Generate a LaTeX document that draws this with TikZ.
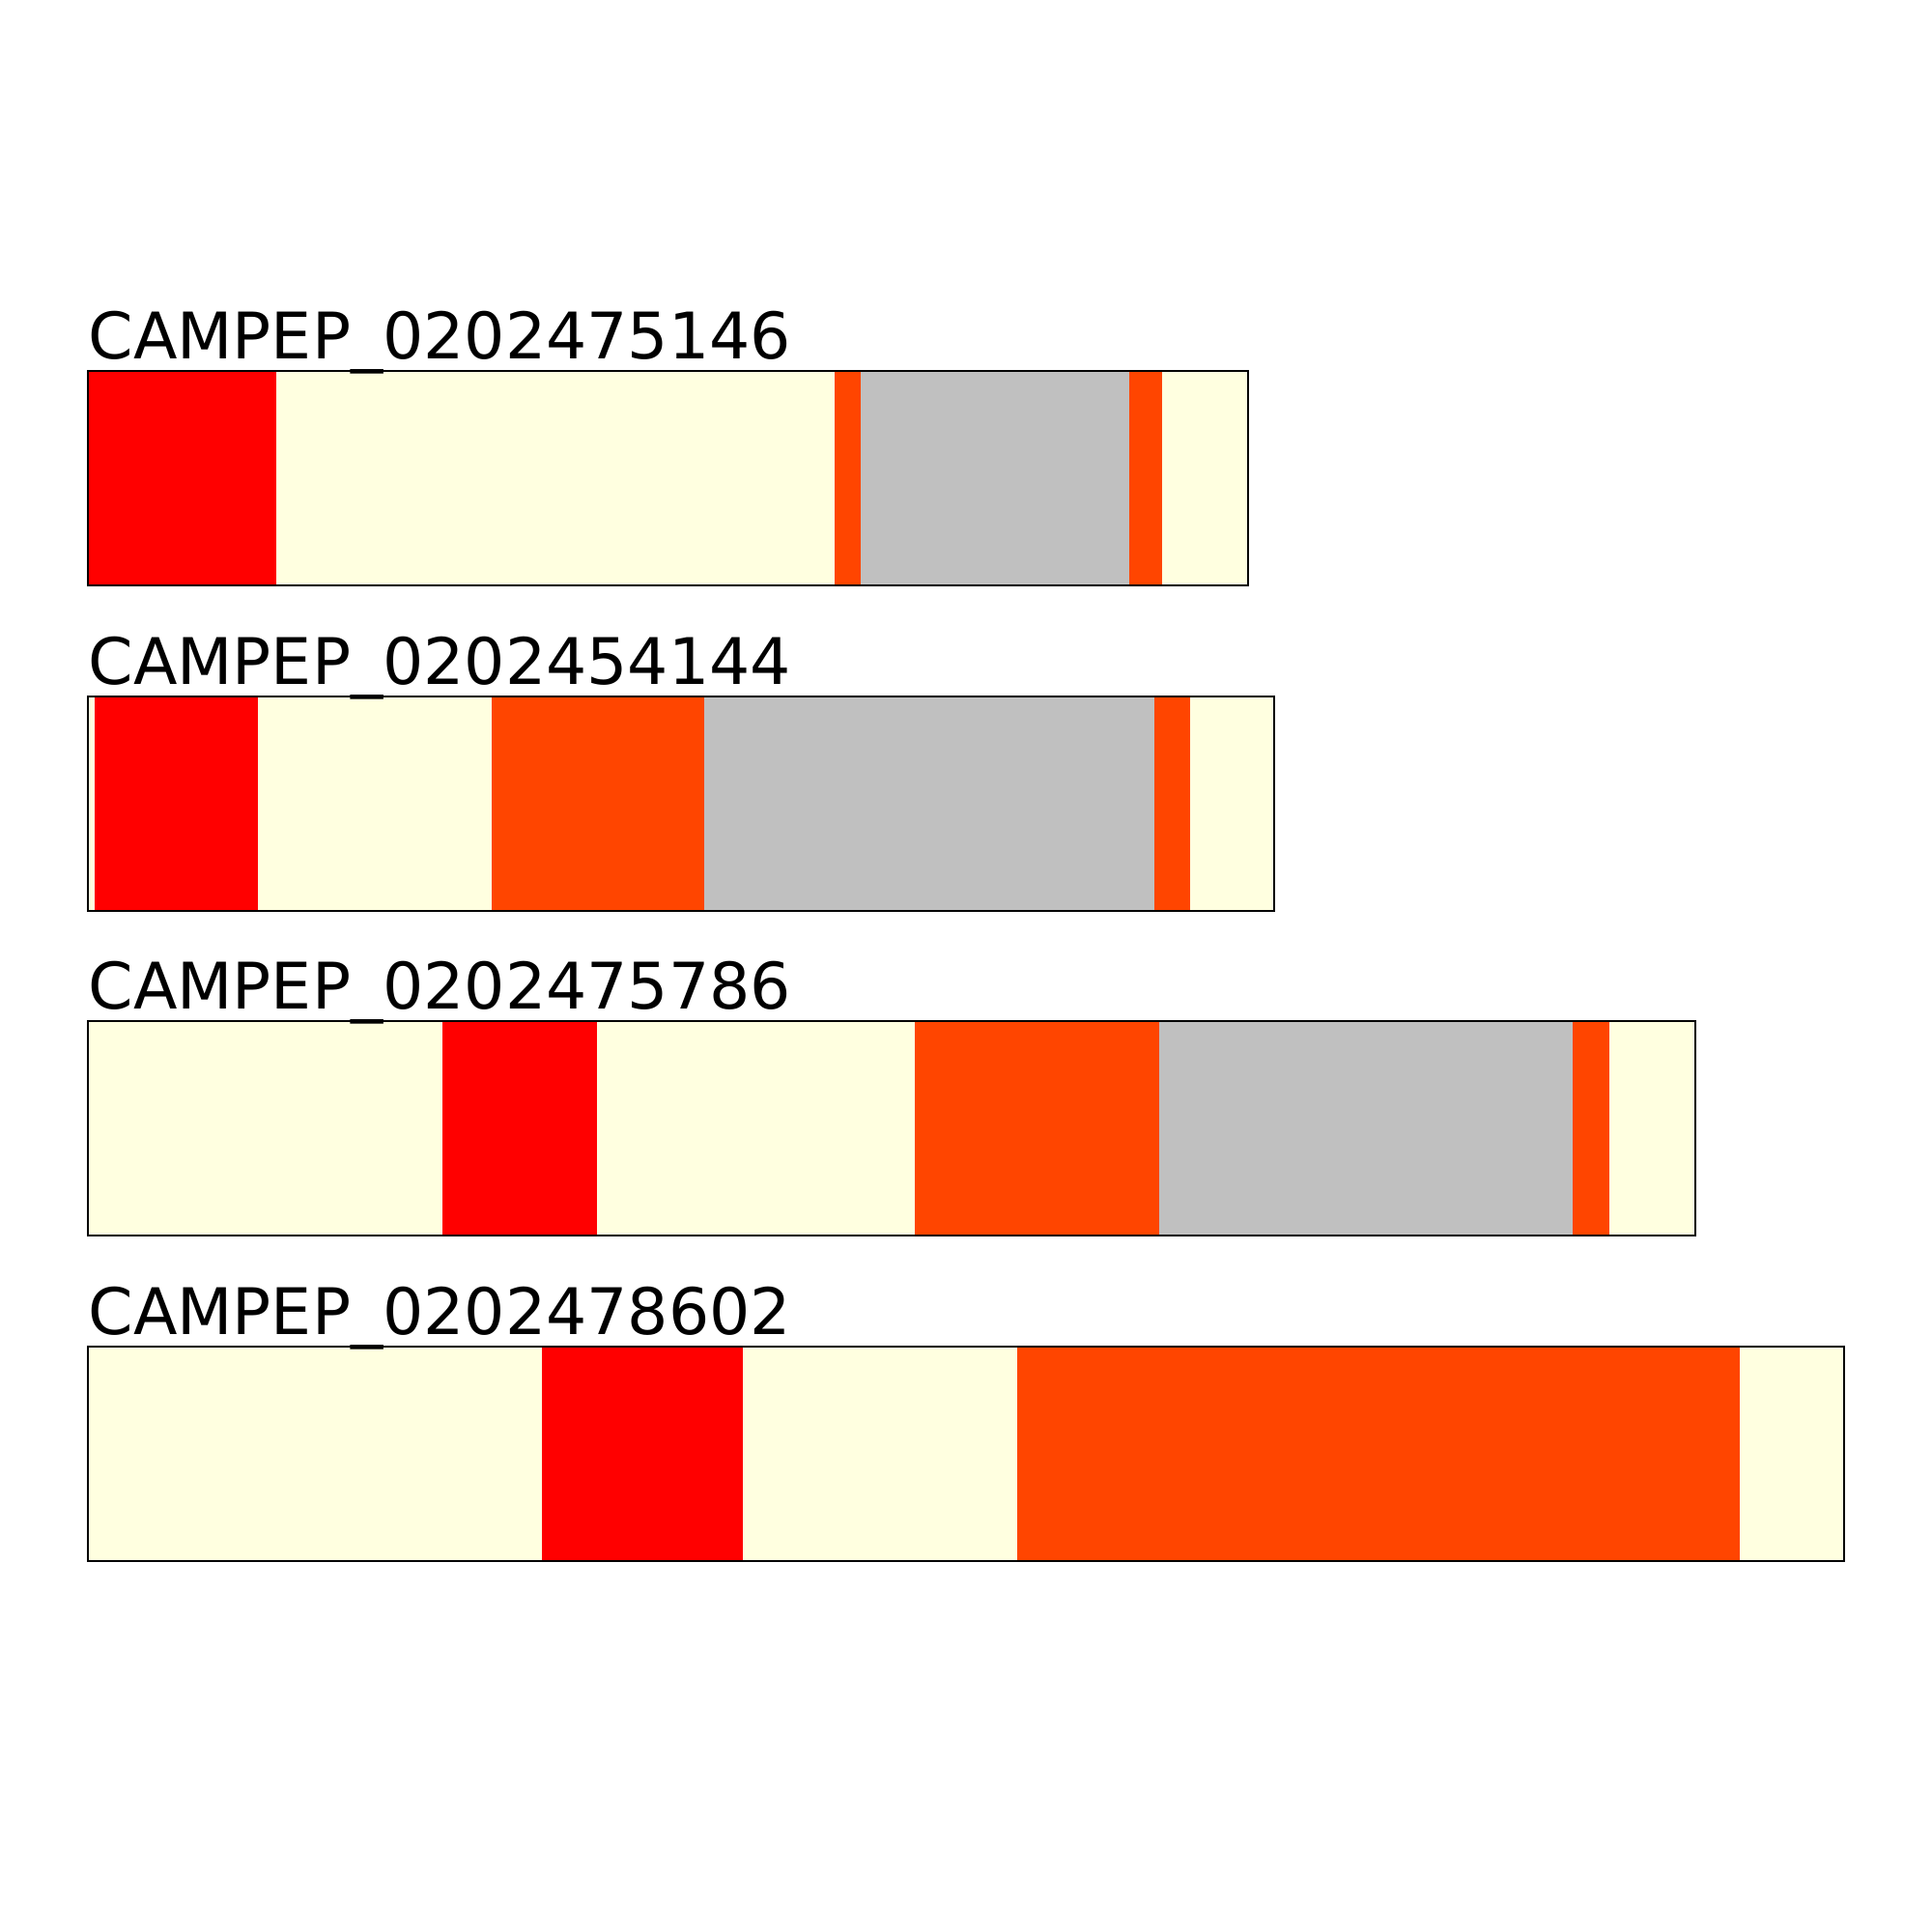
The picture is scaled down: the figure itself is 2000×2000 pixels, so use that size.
\documentclass[tikz,border=0pt]{standalone}
\usepackage{fontspec}
\setmainfont{DejaVu Sans}
\usetikzlibrary{positioning}
\definecolor{lightyellow}{HTML}{FFFFE0}
\definecolor{orangered}{HTML}{FF4500}
\definecolor{silver}{HTML}{C0C0C0}

\begin{document}
\begin{tikzpicture}[
    x=0.01cm,y=-0.01cm,
    frame/.style={draw=black,line width=0.75pt},
    barlabel/.style={anchor=base west,inner sep=0pt,font=\fontsize{18.9}{23}\selectfont}
]
\useasboundingbox (0,0) rectangle (2000,2000);

% Bar 1
\foreach \a/\b/\c in {91/286/red,286/864/lightyellow,864/891/orangered,891/1169/silver,1169/1203/orangered,1203/1292/lightyellow} {
    \fill[\c] (\a,384) rectangle (\b,606);
}
\draw[frame] (91,384) rectangle (1292,606);
\node[barlabel] (lbl1) at (91,371) {CAMPEP\_0202475146};

% Bar 2
\foreach \a/\b/\c in {91/98/lightyellow,98/267/red,267/509/lightyellow,509/729/orangered,729/1195/silver,1195/1232/orangered,1232/1319/lightyellow} {
    \fill[\c] (\a,721) rectangle (\b,943);
}
\draw[frame] (91,721) rectangle (1319,943);
\node[barlabel] (lbl2) at (91,708) {CAMPEP\_0202454144};

% Bar 3
\foreach \a/\b/\c in {91/458/lightyellow,458/618/red,618/947/lightyellow,947/1200/orangered,1200/1628/silver,1628/1666/orangered,1666/1755/lightyellow} {
    \fill[\c] (\a,1057) rectangle (\b,1279);
}
\draw[frame] (91,1057) rectangle (1755,1279);
\node[barlabel] (lbl3) at (91,1044) {CAMPEP\_0202475786};

% Bar 4
\foreach \a/\b/\c in {91/561/lightyellow,561/769/red,769/1053/lightyellow,1053/1801/orangered,1801/1909/lightyellow} {
    \fill[\c] (\a,1394) rectangle (\b,1616);
}
\draw[frame] (91,1394) rectangle (1909,1616);
\node[barlabel] (lbl4) at (91,1381) {CAMPEP\_0202478602};

\end{tikzpicture}
\end{document}
